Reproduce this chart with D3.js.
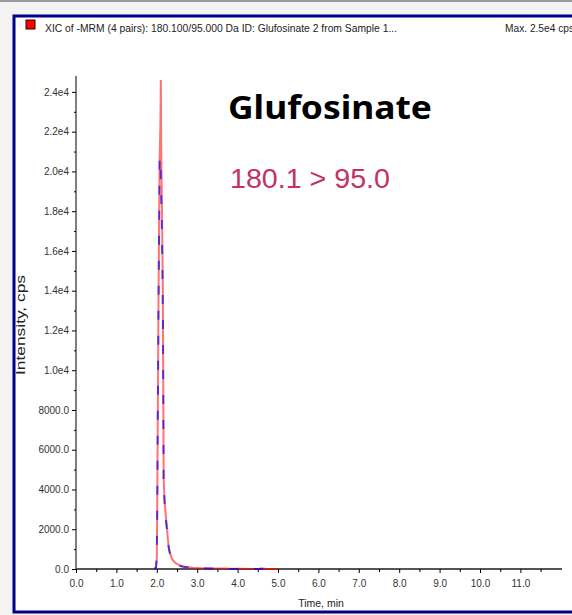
<!DOCTYPE html>
<html>
<head>
<meta charset="utf-8">
<script src="https://cdn.jsdelivr.net/npm/d3@7"></script>
<style>
  body { margin: 0; background: #f3f3f3; }
  svg { display: block; }
</style>
</head>
<body>
<div id="vizArea"></div>
<script>
// XIC trace, red = main, blue = dashed overlay
const times = [1.94, 1.98, 2.00, 2.01, 2.03, 2.04, 2.06, 2.07, 2.09, 2.10, 2.11, 2.12, 2.14, 2.15, 2.17, 2.19, 2.21, 2.23, 2.25, 2.27, 2.29, 2.31, 2.34, 2.37, 2.40, 2.44, 2.48, 2.52, 2.56, 2.60, 2.65, 2.70, 2.75, 2.80, 2.85, 2.90, 2.95, 3.00, 3.10, 3.20, 3.30, 3.40, 3.50, 3.60, 3.70, 3.80, 4.00, 4.50, 4.60, 4.70, 5.00]
const redValues = [0, 100, 600, 3000, 9400, 12900, 18000, 20500, 22500, 24600, 21000, 19500, 16000, 14000, 4500, 3600, 3000, 2500, 2100, 1600, 1200, 950, 720, 550, 430, 340, 280, 230, 190, 160, 130, 110, 100, 90, 80, 60, 50, 50, 40, 40, 30, 30, 20, 20, 20, 10, 10, 0, 40, 0, 0]
const blueValues = [0, 80, 500, 2900, 9300, 12800, 17500, 20600, 20700, 19400, 18500, 17800, 15000, 13000, 4300, 3400, 2900, 2400, 2000, 1500, 1150, 900, 680, 520, 400, 320, 260, 210, 170, 140, 120, 100, 90, 80, 70, 50, 40, 40, 30, 30, 20, 20, 10, 10, 10, 0, 0, 0, 0, 0, 0]

const yTicks = [0, 2000, 4000, 6000, 8000, 10000, 12000, 14000, 16000, 18000, 20000, 22000, 24000]
const xTicks = [0, 1, 2, 3, 4, 5, 6, 7, 8, 9, 10, 11]

const headerText = "XIC of -MRM (4 pairs): 180.100/95.000 Da ID: Glufosinate 2 from Sample 1..."
const maxText = "Max. 2.5e4 cps"
const compound = "Glufosinate"
const transition = "180.1 > 95.0"

const W = 572, H = 615

const svg = d3.select("#vizArea")
    .append("svg")
    .attr("width", W)
    .attr("height", H)
    .style("font-family", "'Liberation Sans', Arial, sans-serif")

// window chrome
svg.append("rect").attr("x", 0).attr("y", 0).attr("width", W).attr("height", H).attr("fill", "#f3f3f3")
svg.append("rect").attr("x", 0).attr("y", 0).attr("width", W).attr("height", 2).attr("fill", "#9a9a9a")
svg.append("rect")
    .attr("x", 14).attr("y", 16)
    .attr("width", W + 10).attr("height", 596)
    .attr("fill", "#fff")
    .attr("stroke", "#00008b")
    .attr("stroke-width", 3)

const x = d3.scaleLinear().domain([0, 12.03]).range([76, 562])
const y = d3.scaleLinear().domain([0, 24800]).range([569, 76])

// header
svg.append("rect").attr("x", 26).attr("y", 20).attr("width", 9).attr("height", 9)
    .attr("fill", "#ff0000").attr("stroke", "#300000").attr("stroke-width", 1)
svg.append("text").attr("x", 45).attr("y", 32).attr("font-size", 10).attr("fill", "#222")
    .attr("textLength", 352).attr("lengthAdjust", "spacingAndGlyphs")
    .text(headerText)
svg.append("text").attr("x", 505).attr("y", 32).attr("font-size", 10).attr("fill", "#222")
    .attr("textLength", 69).attr("lengthAdjust", "spacingAndGlyphs")
    .text(maxText)

// y axis
const yAxis = svg.append("g")
    .attr("transform", `translate(${x(0)},0)`)
    .call(d3.axisLeft(y).tickValues(yTicks).tickSize(4).tickPadding(3)
        .tickFormat(d => d >= 10000 ? (d / 10000).toFixed(1) + "e4" : d.toFixed(1)))
yAxis.select(".domain").attr("stroke", "#000").attr("d", `M0,${y(0)}V${y.range()[1]}`)
yAxis.selectAll("text").attr("font-size", 10).attr("fill", "#333")
    .attr("font-family", "'Liberation Sans', Arial, sans-serif")
svg.append("g")
    .attr("transform", `translate(${x(0)},0)`)
    .call(d3.axisLeft(y).tickValues(d3.range(1000, 24800, 2000)).tickSize(2).tickFormat(""))
    .select(".domain").remove()

// x axis
const xAxis = svg.append("g")
    .attr("transform", `translate(0,${y(0)})`)
    .call(d3.axisBottom(x).tickValues(xTicks).tickSize(4).tickPadding(7).tickFormat(d3.format(".1f")))
xAxis.select(".domain").attr("stroke", "#555").attr("stroke-width", 2).attr("d", `M${x(0)},0H562`)
xAxis.selectAll("text").attr("font-size", 10).attr("fill", "#333")
    .attr("font-family", "'Liberation Sans', Arial, sans-serif")
svg.append("g")
    .attr("transform", `translate(0,${y(0)})`)
    .call(d3.axisBottom(x).tickValues(d3.range(0.5, 12, 1)).tickSize(3).tickFormat(""))
    .select(".domain").remove()

// axis titles
svg.append("text")
    .attr("transform", `translate(25,325) rotate(-90)`)
    .attr("text-anchor", "middle").attr("font-size", 12.5).attr("fill", "#222")
    .attr("textLength", 100).attr("lengthAdjust", "spacingAndGlyphs")
    .text("Intensity, cps")
svg.append("text")
    .attr("x", 321).attr("y", 607)
    .attr("text-anchor", "middle").attr("font-size", 10.5).attr("fill", "#222")
    .text("Time, min")

// traces
const line = d3.line().x(d => x(d[0])).y(d => y(d[1]))
svg.append("path")
    .datum(times.map((t, i) => [t, redValues[i]]))
    .attr("fill", "none")
    .attr("stroke", "#ff0000")
    .attr("stroke-opacity", 0.55)
    .attr("stroke-width", 2)
    .attr("d", line)
svg.append("path")
    .datum(times.map((t, i) => [t, blueValues[i]]))
    .attr("fill", "none")
    .attr("stroke", "#0000ff")
    .attr("stroke-opacity", 0.65)
    .attr("stroke-width", 2)
    .attr("stroke-dasharray", "9,16")
    .attr("d", line)

// annotations
svg.append("text")
    .attr("x", 228).attr("y", 119)
    .attr("font-family", "'Noto Sans', 'Open Sans', sans-serif")
    .attr("font-weight", "bold").attr("font-size", 33).attr("fill", "#000")
    .attr("textLength", 204).attr("lengthAdjust", "spacingAndGlyphs")
    .text(compound)
svg.append("text")
    .attr("x", 230).attr("y", 188)
    .attr("font-size", 28).attr("fill", "#c43263")
    .attr("textLength", 160).attr("lengthAdjust", "spacingAndGlyphs")
    .text(transition)
</script>
</body>
</html>
